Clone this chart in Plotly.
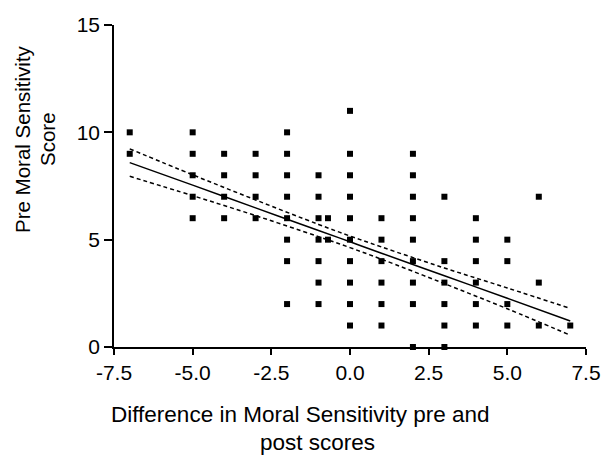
import plotly.graph_objects as go

# Scatter data: difference (x) and pre score (y)
diff_x = (
    [-7, -7]
    + [-5] * 5
    + [-4] * 4
    + [-3] * 4
    + [-2] * 8
    + [-1] * 7
    + [-0.7] * 2
    + [0] * 10
    + [1] * 6
    + [2] * 9
    + [3] * 6
    + [4] * 6
    + [5] * 4
    + [6] * 3
    + [7]
)
pre_score = (
    [10, 9]
    + [10, 9, 8, 7, 6]
    + [9, 8, 7, 6]
    + [9, 8, 7, 6]
    + [10, 9, 8, 7, 6, 5, 4, 2]
    + [8, 7, 6, 5, 4, 3, 2]
    + [6, 5]
    + [11, 9, 8, 7, 6, 5, 4, 3, 2, 1]
    + [6, 5, 4, 3, 2, 1]
    + [9, 8, 7, 6, 5, 4, 3, 2, 0]
    + [7, 4, 3, 2, 1, 0]
    + [6, 5, 4, 3, 2, 1]
    + [5, 4, 2, 1]
    + [7, 3, 1]
    + [1]
)

# Regression line and 95% band
fit_x = [-7, -5, -3, -1, 0, 1, 3, 5, 7]
fit_y = [8.59, 7.54, 6.48, 5.43, 4.90, 4.37, 3.32, 2.27, 1.21]
band_upper = [9.23, 8.02, 6.85, 5.71, 5.17, 4.66, 3.68, 2.75, 1.80]
band_lower = [7.95, 7.05, 6.12, 5.14, 4.63, 4.09, 2.95, 1.78, 0.55]

x_tickvals = [-7.5, -5.0, -2.5, 0.0, 2.5, 5.0, 7.5]
x_ticktext = ["-7.5", "-5.0", "-2.5", "0.0", "2.5", "5.0", "7.5"]
y_tickvals = [0, 5, 10, 15]
y_ticktext = ["0", "5", "10", "15"]

FONT = "Liberation Sans, Arial, Helvetica, sans-serif"

fig = go.Figure()
fig.add_trace(go.Scatter(x=diff_x, y=pre_score, mode="markers",
                         marker=dict(symbol="square", size=6, color="black"),
                         showlegend=False, cliponaxis=False))
fig.add_trace(go.Scatter(x=fit_x, y=fit_y, mode="lines",
                         line=dict(color="black", width=1.5, shape="spline"),
                         showlegend=False))
for band in (band_upper, band_lower):
    fig.add_trace(go.Scatter(x=fit_x, y=band, mode="lines",
                             line=dict(color="black", width=1.5, dash="4px,3px", shape="spline"),
                             showlegend=False))

fig.update_layout(
    width=613, height=456,
    margin=dict(l=114, r=16, t=25, b=109),
    plot_bgcolor="white", paper_bgcolor="white",
    font=dict(family=FONT, color="black"),
    xaxis=dict(range=[-7.5, 7.5], tickvals=x_tickvals, ticktext=x_ticktext,
               showgrid=False, zeroline=False, showline=True, linecolor="black",
               linewidth=1.5, ticks="outside", ticklen=6, tickwidth=1.5,
               tickcolor="black", tickfont=dict(size=21, family=FONT)),
    yaxis=dict(range=[0, 15], tickvals=y_tickvals, ticktext=y_ticktext,
               showgrid=False, zeroline=False, showline=True, linecolor="black",
               linewidth=1.5, ticks="outside", ticklen=8, tickwidth=1.5,
               tickcolor="black", tickfont=dict(size=21, family=FONT)),
)

fig.add_annotation(text="Difference in Moral Sensitivity pre and", xref="paper", yref="paper",
                   x=0.395, y=0, yshift=-67, xanchor="center", yanchor="middle",
                   showarrow=False, font=dict(size=22.5, family=FONT))
fig.add_annotation(text="post scores", xref="paper", yref="paper",
                   x=0.431, y=0, yshift=-95, xanchor="center", yanchor="middle",
                   showarrow=False, font=dict(size=22.5, family=FONT))
fig.add_annotation(text="Pre Moral Sensitivity", xref="paper", yref="paper",
                   x=0, xshift=-92, y=0.5, yshift=47, textangle=-90,
                   xanchor="center", yanchor="middle",
                   showarrow=False, font=dict(size=20.5, family=FONT))
fig.add_annotation(text="Score", xref="paper", yref="paper",
                   x=0, xshift=-67, y=0.5, yshift=47, textangle=-90,
                   xanchor="center", yanchor="middle",
                   showarrow=False, font=dict(size=20.5, family=FONT))

fig.write_html("out.html")
